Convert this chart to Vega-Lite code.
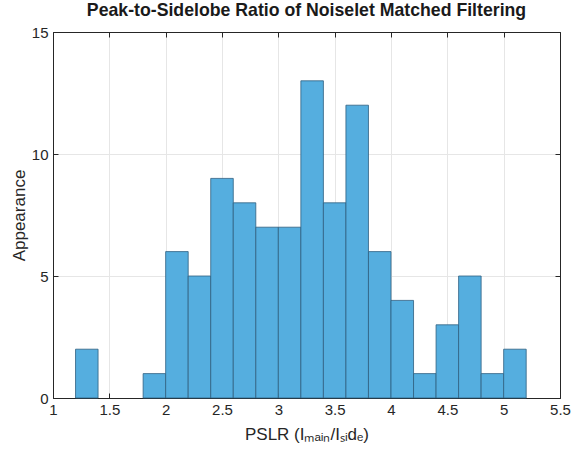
{
  "$schema": "https://vega.github.io/schema/vega-lite/v6.json",
  "autosize": "none",
  "width": 507,
  "height": 366,
  "padding": {"left": 53, "top": 32, "right": 11, "bottom": 57},
  "background": "white",
  "config": {
    "font": "Liberation Sans",
    "view": {"stroke": "#262626", "strokeWidth": 1}
  },
  "title": {
    "text": "Peak-to-Sidelobe Ratio of Noiselet Matched Filtering",
    "font": "Liberation Sans",
    "fontSize": 17.7,
    "fontWeight": "bold",
    "color": "#1a1a1a",
    "anchor": "middle",
    "offset": 5
  },
  "data": {
    "values": [
      {"start": 1.2, "end": 1.4, "count": 2},
      {"start": 1.8, "end": 2.0, "count": 1},
      {"start": 2.0, "end": 2.2, "count": 6},
      {"start": 2.2, "end": 2.4, "count": 5},
      {"start": 2.4, "end": 2.6, "count": 9},
      {"start": 2.6, "end": 2.8, "count": 8},
      {"start": 2.8, "end": 3.0, "count": 7},
      {"start": 3.0, "end": 3.2, "count": 7},
      {"start": 3.2, "end": 3.4, "count": 13},
      {"start": 3.4, "end": 3.6, "count": 8},
      {"start": 3.6, "end": 3.8, "count": 12},
      {"start": 3.8, "end": 4.0, "count": 6},
      {"start": 4.0, "end": 4.2, "count": 4},
      {"start": 4.2, "end": 4.4, "count": 1},
      {"start": 4.4, "end": 4.6, "count": 3},
      {"start": 4.6, "end": 4.8, "count": 5},
      {"start": 4.8, "end": 5.0, "count": 1},
      {"start": 5.0, "end": 5.2, "count": 2}
    ]
  },
  "layer": [
    {
      "mark": {"type": "rect", "fill": "#55AEDF", "stroke": "#2f5f80", "strokeWidth": 0.8},
      "encoding": {
        "x": {
          "field": "start", "type": "quantitative",
          "scale": {"domain": [1, 5.5], "nice": false},
          "axis": {
            "values": [1, 1.5, 2, 2.5, 3, 3.5, 4, 4.5, 5, 5.5],
            "format": "~g",
            "title": "PSLR (Iₘₐᵢₙ/Iₛᵢdₑ)",
            "titleFont": "Liberation Sans",
            "titleFontSize": 17,
            "titleFontWeight": "normal",
            "titleColor": "#262626",
            "titlePadding": 9,
            "labelFontSize": 15,
            "labelColor": "#262626",
            "labelPadding": 9,
            "labelFlush": false,
            "tickSize": -5,
            "tickColor": "#262626",
            "domainColor": "#262626",
            "gridColor": "#e6e6e6",
            "grid": true
          }
        },
        "x2": {"field": "end"},
        "y": {
          "field": "count", "type": "quantitative",
          "scale": {"domain": [0, 15], "nice": false},
          "axis": {
            "values": [0, 5, 10, 15],
            "format": "~g",
            "title": "Appearance",
            "titleFont": "Liberation Sans",
            "titleFontSize": 17,
            "titleFontWeight": "normal",
            "titleColor": "#262626",
            "titlePadding": 3,
            "labelFontSize": 15,
            "labelColor": "#262626",
            "labelPadding": 10,
            "labelFlush": false,
            "tickSize": -5,
            "tickColor": "#262626",
            "domainColor": "#262626",
            "gridColor": "#e6e6e6",
            "grid": true
          }
        },
        "y2": {"datum": 0}
      }
    },
    {
      "mark": {"type": "rule", "opacity": 0},
      "encoding": {
        "x": {
          "field": "start", "type": "quantitative",
          "axis": {
            "orient": "top",
            "values": [1, 1.5, 2, 2.5, 3, 3.5, 4, 4.5, 5, 5.5],
            "labels": false,
            "title": null,
            "grid": false,
            "tickSize": -5,
            "tickColor": "#262626",
            "domainColor": "#262626"
          }
        },
        "y": {
          "field": "count", "type": "quantitative",
          "axis": {
            "orient": "right",
            "values": [0, 5, 10, 15],
            "labels": false,
            "title": null,
            "grid": false,
            "tickSize": -5,
            "tickColor": "#262626",
            "domainColor": "#262626"
          }
        }
      }
    }
  ],
  "resolve": {"axis": {"x": "independent", "y": "independent"}}
}
